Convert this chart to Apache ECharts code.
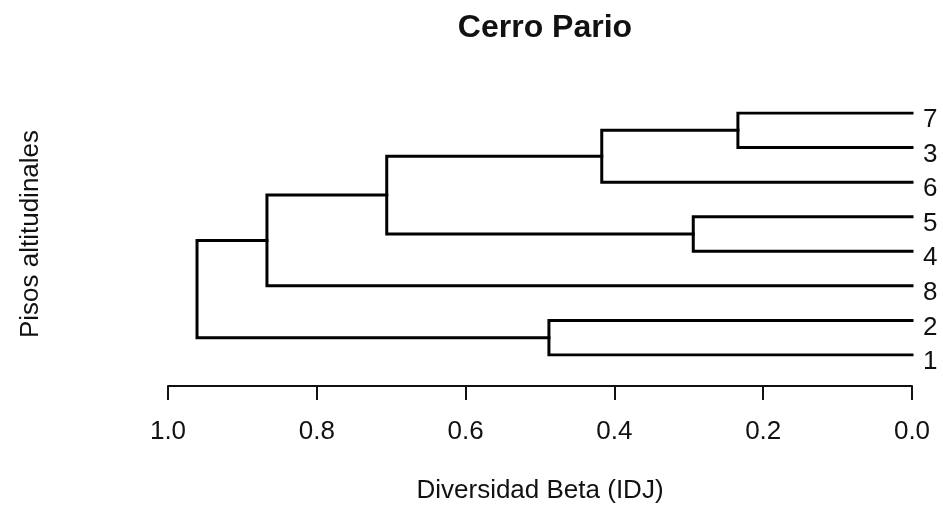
<!DOCTYPE html>
<html>
<head>
<meta charset="utf-8">
<script src="https://cdn.jsdelivr.net/npm/echarts@6/dist/echarts.min.js"></script>
<style>
  html, body { margin: 0; padding: 0; background: #fff; }
  #chart { width: 943px; height: 506px; }
</style>
</head>
<body>
<div id="chart"></div>
<script>
// Leaves of the dendrogram, listed from bottom to top
const leafOrder = ['1', '2', '8', '4', '5', '6', '3', '7'];

// Agglomeration steps (hclust style): step i joins mergeA[i] with mergeB[i]
// at distance mergeHeight[i]; "nK" refers to the node built at step K
const mergeA = ['7', '5', 'n1', '2', 'n3', 'n5', 'n6'];
const mergeB = ['3', '4', '6', '1', 'n2', '8', 'n4'];
const mergeHeight = [0.234, 0.294, 0.417, 0.488, 0.706, 0.867, 0.961];

// Distance axis ticks
const xTicks = [0.0, 0.2, 0.4, 0.6, 0.8, 1.0];

const FONT = '"Liberation Sans", Arial, Helvetica, sans-serif';
const INK = '#111';

// Node positions in data space: x = height, y = leaf slot (1..8)
const nodes = {};
leafOrder.forEach((name, i) => { nodes[name] = { x: 0, y: i + 1 }; });

const branches = [];
mergeHeight.forEach((h, i) => {
  const a = nodes[mergeA[i]];
  const b = nodes[mergeB[i]];
  branches.push({
    coords: [[a.x, a.y], [h, a.y], [h, b.y], [b.x, b.y]]
  });
  nodes['n' + (i + 1)] = { x: h, y: (a.y + b.y) / 2 };
});

const chart = echarts.init(document.getElementById('chart'), null, { renderer: 'canvas' });

chart.setOption({
  backgroundColor: '#fff',
  animation: false,
  textStyle: { fontFamily: FONT, color: INK },
  title: {
    text: 'Cerro Pario',
    left: 540,
    textAlign: 'center',
    top: 7,
    textStyle: { fontFamily: FONT, fontWeight: 'bold', fontSize: 32, color: INK }
  },
  grid: { left: 168, right: 31, top: 113, bottom: 151, containLabel: false },
  xAxis: {
    type: 'value',
    inverse: true,
    min: xTicks[0],
    max: xTicks[xTicks.length - 1],
    interval: 0.2,
    offset: 31,
    name: 'Diversidad Beta (IDJ)',
    nameLocation: 'middle',
    nameGap: 92,
    nameTextStyle: { fontFamily: FONT, fontSize: 26, color: INK },
    axisLine: { show: true, onZero: false, lineStyle: { color: INK, width: 2 } },
    axisTick: { show: true, length: 14, lineStyle: { color: INK, width: 2 } },
    axisLabel: {
      margin: 33,
      fontFamily: FONT, fontSize: 26, color: INK,
      formatter: v => v.toFixed(1)
    },
    splitLine: { show: false }
  },
  yAxis: [
    {
      type: 'value',
      min: 1,
      max: 8,
      name: 'Pisos altitudinales',
      nameLocation: 'middle',
      nameRotate: 90,
      nameGap: 124,
      nameTextStyle: { fontFamily: FONT, fontSize: 26, color: INK },
      axisLine: { show: false },
      axisTick: { show: false },
      axisLabel: { show: false },
      splitLine: { show: false }
    },
    {
      type: 'category',
      position: 'right',
      boundaryGap: false,
      data: leafOrder,
      axisLine: { show: false },
      axisTick: { show: false },
      axisLabel: {
        margin: 11,
        verticalAlign: 'top',
        lineHeight: 14,
        fontFamily: FONT, fontSize: 26, color: INK
      },
      splitLine: { show: false }
    }
  ],
  series: [{
    type: 'lines',
    coordinateSystem: 'cartesian2d',
    xAxisIndex: 0,
    yAxisIndex: 0,
    polyline: true,
    silent: true,
    lineStyle: { color: '#000', width: 3, opacity: 1, curveness: 0, cap: 'square', join: 'miter' },
    data: branches
  }]
});
</script>
</body>
</html>
